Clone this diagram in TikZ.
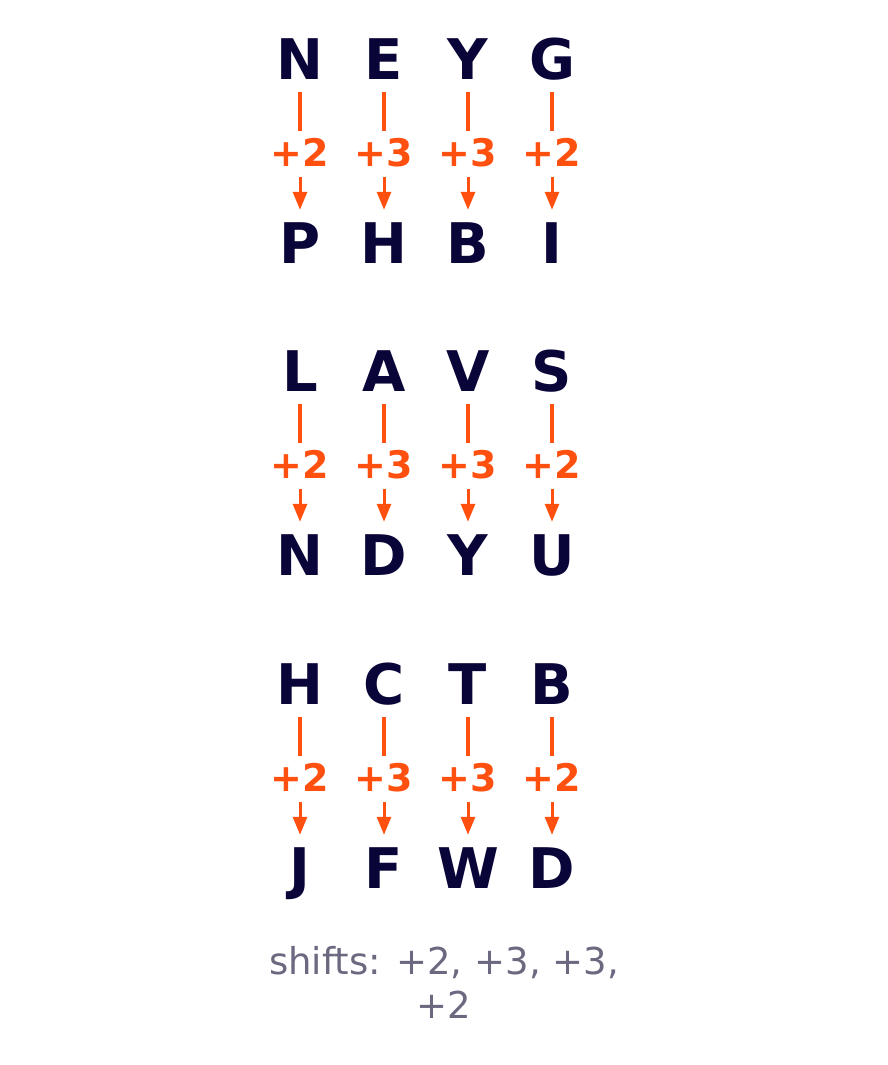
\documentclass[tikz,border=0pt]{standalone}
\usepackage{fontspec}
\setmainfont{DejaVu Sans}
\usetikzlibrary{arrows.meta}
\definecolor{ink}{HTML}{0A0538}
\definecolor{shiftc}{HTML}{FF5010}
\definecolor{note}{HTML}{6B6880}
\tikzset{
  letter/.style={inner sep=0pt, text height=41pt, text depth=0pt, text=ink,
    font=\fontsize{56}{60}\selectfont\bfseries},
  shiftlab/.style={inner sep=0pt, text height=28pt, text depth=0pt, text=shiftc,
    font=\fontsize{38}{42}\selectfont\bfseries},
  stem/.style={draw=shiftc, line width=3.6pt, shorten <=12.5pt, shorten >=6.5pt},
  pointer/.style={draw=shiftc, line width=3pt, -{Triangle[length=18pt,width=14pt]},
    shorten <=10.5pt, shorten >=12.5pt},
}
\begin{document}
\begin{tikzpicture}[x=1pt,y=-1pt]
\fill[white] (0,0) rectangle (888,1065);
\useasboundingbox (0,0) rectangle (888,1065);
\foreach \g/\yo/\tops/\bots/\shs in {
  1/0/{N,E,Y,G}/{P,H,B,I}/{2,3,3,2},
  2/312/{L,A,V,S}/{N,D,Y,U}/{2,3,3,2},
  3/625/{H,C,T,B}/{J,F,W,D}/{2,3,3,2}}{
  \foreach \tl [count=\i] in \tops {
    \node[letter] (t\g\i) at ({216+84*\i},{59+\yo}) {\tl};
  }
  \foreach \bl [count=\i] in \bots {
    \node[letter] (b\g\i) at ({216+84*\i},{243+\yo}) {\bl};
  }
  \foreach \s [count=\i] in \shs {
    \node[shiftlab] (s\g\i) at ({216+84*\i},{152+\yo}) {+\s};
    \draw[stem] (t\g\i) -- (s\g\i);
    \draw[pointer] (s\g\i) -- (b\g\i);
  }
}
\node[text=note, align=center, font=\fontsize{37}{44}\selectfont] (note) at (444,982)
  {shifts: +2, +3, +3,\\+2};
\end{tikzpicture}
\end{document}
